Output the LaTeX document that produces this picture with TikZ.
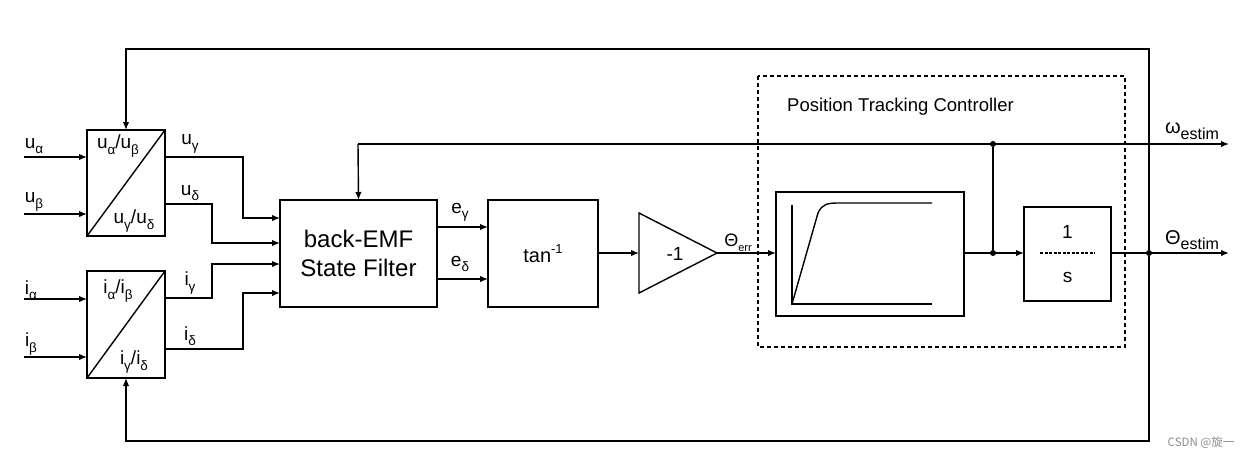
\documentclass[tikz,border=0pt]{standalone}
\usepackage{fontspec}
\setmainfont{Liberation Sans}
\newfontfamily\cjk{Noto Sans CJK SC}
\usetikzlibrary{arrows.meta}
\newcommand\fs[1]{\fontsize{#1}{#1}\selectfont}
\newcommand\sbx[2][13.5]{\raisebox{-0.28em}{\fontsize{#1}{#1}\selectfont #2}}
\newcommand\spx[2][13]{\raisebox{0.45em}{\fontsize{#1}{#1}\selectfont #2}}
\begin{document}
\begin{tikzpicture}[x=1pt,y=-1pt,
  ln/.style={line width=1.4pt},
  blk/.style={draw, line width=1.4pt, inner sep=0pt, outer sep=0pt},
  arr/.style={ln, -{Latex[length=8pt,width=6.5pt]}},
  lab/.style={inner sep=0pt, font=\fs{19}},
  jdot/.style={circle, fill, inner sep=0pt, minimum size=6pt},
  dbox/.style={draw, line width=1.1pt, dash pattern=on 4pt off 3pt}]
\useasboundingbox (0,0) rectangle (1250,459);
% converters
\node[blk, minimum width=78pt, minimum height=106pt] (uc) at (126,183) {};
\node[blk, minimum width=78pt, minimum height=107pt] (ic) at (126,324.5) {};
\draw[ln] (uc.south west) -- (uc.north east);
\draw[ln] (ic.south west) -- (ic.north east);
\node[lab] (uctop) at (118,146) {u\sbx{α}/u\sbx{β}};
\node[lab] (ucbot) at (134,221) {u\sbx{γ}/u\sbx{δ}};
\node[lab] (ictop) at (118,291) {i\sbx{α}/i\sbx{β}};
\node[lab] (icbot) at (134,362) {i\sbx{γ}/i\sbx{δ}};
% inputs
\coordinate (ua) at (24,157);
\coordinate (ub) at (24,214);
\coordinate (ia) at (24,299);
\coordinate (ib) at (24,357);
\draw[arr] (ua) -- (ua -| uc.west);
\draw[arr] (ub) -- (ub -| uc.west);
\draw[arr] (ia) -- (ia -| ic.west);
\draw[arr] (ib) -- (ib -| ic.west);
\node[lab] (lua) at (34,146) {u\sbx{α}};
\node[lab] (lub) at (34,202) {u\sbx{β}};
\node[lab] (lia) at (31,290) {i\sbx{α}};
\node[lab] (lib) at (31,344) {i\sbx{β}};
% back-EMF filter
\node[blk, minimum width=157pt, minimum height=107pt, align=center, font=\fontsize{24}{29}\selectfont] (bf) at (358.5,253.5) {back-EMF\\State Filter};
% converter outputs
\draw[arr] (uc.east |- 0,157) -- (243,157) -- (243,218) -- (bf.west |- 0,218);
\draw[arr] (uc.east |- 0,204) -- (212,204) -- (212,243) -- (bf.west |- 0,243);
\draw[arr] (ic.east |- 0,298) -- (212,298) -- (212,264) -- (bf.west |- 0,264);
\draw[arr] (ic.east |- 0,349) -- (243,349) -- (243,293) -- (bf.west |- 0,293);
\node[lab] (luy) at (190,144) {u\sbx{γ}};
\node[lab] (lud) at (190,193) {u\sbx{δ}};
\node[lab] (liy) at (190,283) {i\sbx{γ}};
\node[lab] (lid) at (190,336) {i\sbx{δ}};
% tan^-1
\node[blk, minimum width=110pt, minimum height=107pt, font=\fs{20}] (tn) at (543,253.5) {tan\spx{-1}};
\draw[arr] (bf.east |- 0,227) -- (tn.west |- 0,227);
\draw[arr] (bf.east |- 0,279) -- (tn.west |- 0,279);
\node[lab] (ley) at (460,212) {e\sbx{γ}};
\node[lab] (led) at (460,264) {e\sbx{δ}};
% gain
\coordinate (gl) at (639,253);
\coordinate (gt) at (717,253);
\draw[ln, line join=miter] (639,213) -- (gt) -- (639,293) -- cycle;
\node[inner sep=0pt, font=\fs{19}] (gn) at (675,254) {-1};
\draw[arr] (tn.east |- gl) -- (gl);
% position tracking controller
\draw[dbox] (758,76) rectangle (1125,347);
\node[inner sep=0pt, font=\fs{18.5}, anchor=west] (ptc) at (787,107) {Position Tracking Controller};
\node[blk, minimum width=188pt, minimum height=124pt] (rl) at (870,254) {};
\draw[ln] (792,205) -- (792,304) -- (932,304);
\draw[ln] (792,304) -- (818,213) .. controls (822,204) and (828,203) .. (838,203) -- (932,203);
\draw[arr] (gt) -- (rl.west |- gt);
\node[inner sep=0pt, font=\fs{18}] (lerr) at (738,243) {Θ\sbx[11]{err}};
\node[blk, minimum width=87pt, minimum height=94pt] (ig) at (1067.5,254) {};
\node[inner sep=0pt, font=\fs{19}] (ig1) at (1067.5,232) {1};
\node[inner sep=0pt, font=\fs{19}] (igs) at (1067.5,277) {s};
\draw[line width=1.4pt, dash pattern=on 3pt off 1.5pt] (1040,253) -- (1095,253);
\node[jdot] (j1) at (993,253) {};
\node[jdot] (j2) at (993,144) {};
\draw[arr] (rl.east |- j1) -- (ig.west |- j1);
\draw[ln] (j1) -- (j2);
% omega line and feedback to filter
\coordinate (wend) at (1229,144);
\coordinate (wstart) at (358,144);
\draw[arr] (wstart) -- (wend);
\draw[arr] (wstart) -- (bf.north);
\node[inner sep=0pt, font=\fs{20}] (lw) at (1192,131) {ω\sbx[16]{estim}};
% theta output
\coordinate (tend) at (1229,253);
\node[jdot] (j3) at (1149,253) {};
\draw[arr] (ig.east |- tend) -- (tend);
\node[inner sep=0pt, font=\fs{20}] (lt) at (1192,240) {Θ\sbx[16]{estim}};
% big feedback loops
\draw[arr] (j3) -- (1149,49) -- (126,49) -- (uc.north);
\draw[arr] (j3) -- (1149,441) -- (126,441) -- (ic.south);
% watermark
\node[inner sep=0pt, font=\cjk\fs{11.5}, text=black!45] (wm) at (1201,443) {CSDN @旋一};
\end{tikzpicture}
\end{document}
